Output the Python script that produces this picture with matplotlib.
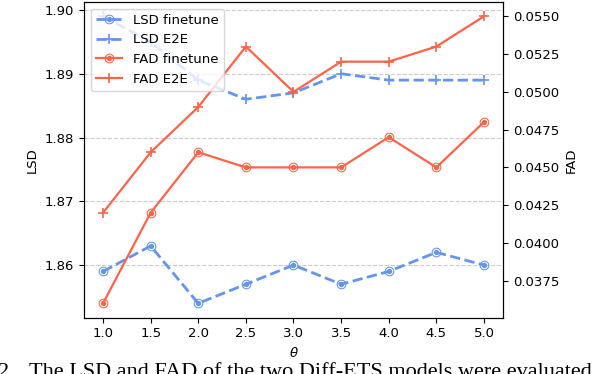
import numpy as np
import matplotlib
matplotlib.use("Agg")
import matplotlib.pyplot as plt
from matplotlib.path import Path

theta = [1.0, 1.5, 2.0, 2.5, 3.0, 3.5, 4.0, 4.5, 5.0]
lsd_finetune = [1.859, 1.863, 1.854, 1.857, 1.860, 1.857, 1.859, 1.862, 1.860]
lsd_e2e = [1.899, 1.895, 1.889, 1.886, 1.887, 1.890, 1.889, 1.889, 1.889]
fad_finetune = [0.036, 0.042, 0.046, 0.045, 0.045, 0.045, 0.047, 0.045, 0.048]
fad_e2e = [0.042, 0.046, 0.049, 0.053, 0.050, 0.052, 0.052, 0.053, 0.055]
xticks = [1.0, 1.5, 2.0, 2.5, 3.0, 3.5, 4.0, 4.5, 5.0]

BLUE = "#6495ED"
RED = "#FF6347"

# ring marker: outer annulus + inner dot
t = np.linspace(0, 2 * np.pi, 41)
def ring(r, ccw=True):
    tt = t if ccw else t[::-1]
    v = np.column_stack([r * np.cos(tt), r * np.sin(tt)])
    c = [Path.LINETO] * len(v)
    c[0] = Path.MOVETO
    c[-1] = Path.CLOSEPOLY
    return v, c
verts, codes = [], []
for r, d in [(1.0, True), (0.78, False), (0.55, True)]:
    v, c = ring(r, d)
    verts.append(v)
    codes += c
ring_marker = Path(np.vstack(verts), codes)

plt.rcParams['font.size'] = 9.5
fig = plt.figure(figsize=(5.94, 3.74), dpi=100)
ax1 = fig.add_axes([84 / 594, 1 - 317.7 / 374, (503 - 84) / 594, (317.7 - 2) / 374])
ax2 = ax1.twinx()

l1, = ax1.plot(theta, lsd_finetune, color=BLUE, ls="--", lw=2.0, marker=ring_marker,
               ms=7, mew=0, label="LSD finetune")
l2, = ax1.plot(theta, lsd_e2e, color=BLUE, ls="--", lw=2.0, marker="+", ms=7,
               mew=1.2, label="LSD E2E")
l3, = ax2.plot(theta, fad_finetune, color=RED, ls="-", lw=1.6, marker=ring_marker,
               ms=7, mew=0, label="FAD finetune")
l4, = ax2.plot(theta, fad_e2e, color=RED, ls="-", lw=1.6, marker="+", ms=7,
               mew=1.2, label="FAD E2E")

ax1.set_xticks(xticks)
ax1.set_yticks([1.86, 1.87, 1.88, 1.89, 1.90])
ax1.set_yticklabels(["1.86", "1.87", "1.88", "1.89", "1.90"])
ax2.set_yticks([0.0375, 0.0400, 0.0425, 0.0450, 0.0475, 0.0500, 0.0525, 0.0550])
ax2.set_yticklabels(["0.0375", "0.0400", "0.0425", "0.0450", "0.0475", "0.0500",
                     "0.0525", "0.0550"])
ax1.grid(axis="y", ls="--", color="#cccccc", lw=0.8)
ax1.set_axisbelow(True)
ax1.set_xlabel(r"$\theta$")
ax1.set_ylabel("LSD")
ax2.set_ylabel("FAD")

ax2.legend(handles=[l1, l2, l3, l4], loc="upper left", handlelength=2.0)

fig.text(-2 / 594, -3 / 374, "2.", family="Liberation Serif", fontsize=16,
         va="baseline", ha="left")
fig.text(29 / 594, -3 / 374, "The LSD and FAD of the two Diff-ETS models were evaluated",
         family="Liberation Serif", fontsize=16, va="baseline", ha="left")

fig.savefig("out.png", dpi=100)
